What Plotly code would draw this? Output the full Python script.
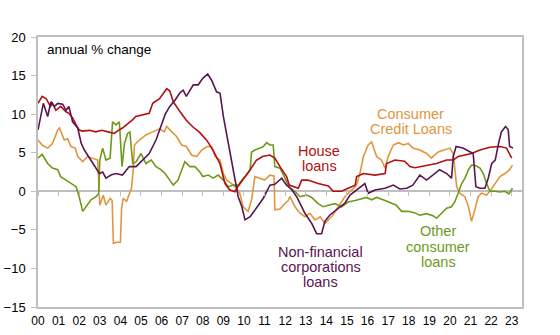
import plotly.graph_objects as go

# ---------------- data (decimal year, annual % change) ----------------
house_t = [2000.0, 2000.2, 2000.4, 2000.6, 2000.7, 2000.87, 2001.1, 2001.36, 2001.5, 2001.68, 2001.85,
           2002.0, 2002.17, 2002.5, 2002.8, 2003.1, 2003.4, 2003.7, 2003.9, 2004.1, 2004.6, 2004.75,
           2005.4, 2005.57, 2005.9, 2006.25, 2006.4, 2006.57, 2006.9, 2007.2, 2007.5, 2007.86, 2008.2,
           2008.5, 2008.83, 2009.08, 2009.3, 2009.56, 2009.7, 2009.96, 2010.3, 2010.6, 2010.9, 2011.26,
           2011.5, 2011.75, 2012.07, 2012.2, 2012.64, 2012.8, 2013.1, 2013.6, 2014.1, 2014.33, 2014.74,
           2015.06, 2015.4, 2015.47, 2015.8, 2016.36, 2016.85, 2016.93, 2017.33, 2017.8, 2018.06, 2018.3,
           2018.87, 2019.35, 2019.84, 2020.16, 2020.4, 2020.8, 2021.05, 2021.46, 2021.94, 2022.43,
           2022.75, 2023.0]
house_v = [11.4, 12.3, 12.0, 11.0, 11.4, 10.5, 11.0, 10.3, 10.1, 9.5, 8.6,
           7.95, 7.8, 7.9, 7.7, 7.9, 7.7, 7.5, 7.9, 8.2, 9.3, 9.7,
           10.1, 11.4, 12.0, 13.3, 13.0, 11.6, 10.3, 9.2, 8.4, 7.6, 6.6,
           5.3, 3.6, 1.0, 0.2, -0.05, 0.6, 1.5, 2.8, 4.0, 4.5, 4.7,
           4.3, 3.2, 1.9, 0.8, 0.4, 1.45, 1.45, 1.0, 0.7, 0.0, 0.0,
           0.4, 0.8, 1.9, 2.3, 2.1, 2.3, 3.6, 4.05, 3.9, 3.2, 3.05,
           3.4, 3.6, 4.05, 4.05, 4.5, 4.7, 4.9, 5.35, 5.7, 5.8,
           5.6, 4.3]

corp_t = [2000.0, 2000.15, 2000.26, 2000.47, 2000.63, 2000.8, 2000.96, 2001.2, 2001.36, 2001.5, 2001.68,
          2001.93, 2002.1, 2002.25, 2002.5, 2002.73, 2002.98, 2003.14, 2003.3, 2003.54, 2003.79, 2004.1,
          2004.43, 2004.76, 2005.08, 2005.4, 2005.73, 2005.97, 2006.18, 2006.4, 2006.65, 2006.9, 2007.05,
          2007.2, 2007.54, 2007.78, 2008.0, 2008.24, 2008.43, 2008.67, 2008.84, 2009.0, 2009.24, 2009.48,
          2009.72, 2009.9, 2010.05, 2010.3, 2010.6, 2010.94, 2011.26, 2011.5, 2011.83, 2012.07, 2012.3,
          2012.56, 2012.8, 2012.96, 2013.29, 2013.53, 2013.77, 2013.93, 2014.17, 2014.5, 2014.9, 2015.15,
          2015.47, 2015.7, 2015.87, 2016.03, 2016.36, 2016.85, 2017.25, 2017.57, 2017.9, 2018.2, 2018.54,
          2018.87, 2019.2, 2019.5, 2019.84, 2020.08, 2020.16, 2020.3, 2020.63, 2020.97, 2021.13, 2021.26,
          2021.46, 2021.7, 2021.86, 2022.03, 2022.2, 2022.36, 2022.5, 2022.7, 2022.83, 2022.9, 2023.06]
corp_v = [7.95, 10.1, 11.4, 9.7, 11.6, 11.0, 11.4, 11.3, 10.5, 11.0, 9.0,
          8.2, 6.2, 5.35, 4.3, 3.4, 2.3, 2.5, 1.7, 2.1, 2.3, 2.1,
          3.2, 3.2, 4.05, 4.9, 6.65, 8.3, 10.0, 11.0, 11.8, 12.8, 13.1,
          12.3, 13.8, 13.8, 14.65, 15.2, 14.4, 12.9, 12.7, 9.7, 6.2, 2.8,
          -0.7, -2.0, -3.7, -3.3, -2.2, -0.9, 0.8, 0.9, 1.7, 0.8, 0.3,
          -0.7, -2.0, -2.85, -4.15, -5.5, -5.5, -3.9, -3.07, -2.4, -1.55, -0.5,
          0.17, 0.6, 1.0, -0.26, 0.17, 0.4, 0.8, 0.3, 0.4, 0.8, 2.1,
          1.45, 2.1, 2.8, 2.3, 1.7, 4.5, 5.8, 5.6, 5.1, 4.9, 0.6,
          0.4, 0.4, 1.7, 3.6, 4.05, 6.2, 7.7, 8.4, 8.0, 5.8, 5.6]

cons_t = [2000.0, 2000.2, 2000.47, 2000.7, 2000.96, 2001.04, 2001.28, 2001.44, 2001.6, 2001.8, 2001.93,
          2002.17, 2002.4, 2002.66, 2002.9, 2003.0, 2003.17, 2003.3, 2003.5, 2003.6, 2003.66, 2003.82,
          2004.0, 2004.06, 2004.14, 2004.3, 2004.46, 2004.54, 2004.63, 2004.68, 2004.92, 2005.24, 2005.57,
          2005.9, 2006.13, 2006.25, 2006.5, 2006.73, 2006.97, 2007.2, 2007.46, 2007.7, 2007.95, 2008.2,
          2008.43, 2008.6, 2008.84, 2009.0, 2009.16, 2009.4, 2009.64, 2009.8, 2009.96, 2010.2, 2010.37,
          2010.53, 2010.78, 2011.0, 2011.26, 2011.46, 2011.5, 2011.75, 2012.0, 2012.15, 2012.23, 2012.48,
          2012.72, 2012.96, 2013.2, 2013.45, 2013.7, 2013.93, 2014.26, 2014.58, 2014.9, 2015.23, 2015.47,
          2015.63, 2015.8, 2016.03, 2016.2, 2016.44, 2016.68, 2016.85, 2017.0, 2017.25, 2017.5, 2017.74,
          2017.98, 2018.2, 2018.54, 2018.87, 2019.1, 2019.43, 2019.68, 2020.0, 2020.16, 2020.33, 2020.48,
          2020.73, 2020.9, 2021.05, 2021.21, 2021.37, 2021.54, 2021.78, 2021.94, 2022.2, 2022.43, 2022.67,
          2022.9, 2023.04]
cons_v = [6.65, 6.0, 5.6, 6.2, 7.95, 8.2, 6.65, 6.8, 5.8, 5.6, 4.5,
          3.85, 4.5, 4.3, 4.05, -1.8, -0.5, -1.8, -0.9, -1.2, -6.75, -6.6,
          -6.6, -2.2, -0.9, -1.3, 0.0, 0.4, 3.0, 6.0, 6.65, 7.3, 7.7,
          8.1, 7.7, 8.4, 7.7, 7.1, 6.0, 5.8, 4.7, 4.5, 5.35, 5.8,
          5.8, 4.5, 4.05, 2.3, 1.45, 1.0, 0.4, -0.26, -2.0, -2.6, -1.1,
          1.9, 1.7, 1.45, 2.1, 2.0, -2.4, -2.3, -1.55, -1.2, -0.7, -2.0,
          -2.85, -3.3, -2.85, -3.7, -3.3, -4.15, -3.3, -2.0, -0.7, 0.17, 0.8,
          2.3, 4.5, 6.0, 6.4, 4.5, 4.05, 3.0, 4.5, 6.0, 6.3, 6.0,
          6.2, 5.6, 5.35, 4.9, 4.3, 5.1, 5.35, 5.6, 4.9, 0.6, -0.26,
          -0.7, -2.0, -3.9, -2.4, -0.7, -0.26, -0.5, 0.0, 1.0, 1.9, 2.3,
          2.8, 3.4]

other_t = [2000.0, 2000.2, 2000.47, 2000.7, 2000.96, 2001.1, 2001.36, 2001.6, 2001.85, 2002.0, 2002.17,
           2002.33, 2002.57, 2002.82, 2002.95, 2003.0, 2003.14, 2003.3, 2003.5, 2003.62, 2003.79, 2003.95,
           2004.08, 2004.2, 2004.35, 2004.46, 2004.6, 2004.76, 2005.0, 2005.24, 2005.5, 2005.73, 2005.97,
           2006.17, 2006.4, 2006.57, 2006.8, 2006.97, 2007.13, 2007.38, 2007.62, 2007.86, 2008.0, 2008.27,
           2008.5, 2008.75, 2009.0, 2009.24, 2009.48, 2009.72, 2009.9, 2010.13, 2010.3, 2010.37, 2010.53,
           2010.78, 2010.94, 2011.1, 2011.26, 2011.42, 2011.5, 2011.75, 2012.0, 2012.23, 2012.48, 2012.72,
           2013.04, 2013.29, 2013.6, 2013.85, 2014.1, 2014.42, 2014.74, 2015.06, 2015.4, 2015.7, 2015.95,
           2016.2, 2016.44, 2016.76, 2017.1, 2017.4, 2017.65, 2017.98, 2018.3, 2018.54, 2018.87, 2019.2,
           2019.35, 2019.6, 2019.84, 2020.08, 2020.24, 2020.4, 2020.57, 2020.73, 2020.9, 2021.05, 2021.26,
           2021.46, 2021.62, 2021.78, 2021.94, 2022.2, 2022.43, 2022.67, 2022.86, 2023.04]
other_v = [4.3, 4.8, 3.6, 3.0, 2.8, 1.9, 1.45, 1.0, 0.6, -0.7, -2.6,
           -2.0, -1.1, -0.7, -0.3, 4.05, 5.6, 4.05, 4.3, 9.0, 8.6, 9.0,
           3.2, 6.2, 7.5, 7.7, 3.6, 3.8, 4.9, 3.6, 4.05, 3.2, 2.8,
           2.3, 1.45, 0.8, 1.45, 2.8, 3.85, 3.2, 3.2, 2.5, 1.9, 2.1,
           1.7, 2.1, 1.45, 0.6, 0.8, 0.8, 1.45, 2.1, 2.8, 5.1, 5.35,
           5.6, 5.8, 6.3, 6.0, 6.0, 3.2, 3.0, 1.7, 0.4, 0.0, -0.7,
           -0.5, -0.8, -1.6, -2.0, -1.8, -1.6, -2.0, -1.4, -1.2, -1.0, -0.8,
           -1.1, -0.8, -1.1, -1.5, -1.8, -2.6, -2.6, -2.8, -3.1, -2.9, -3.2,
           -3.5, -2.85, -2.2, -2.0, -1.35, -0.26, 1.0, 1.7, 2.8, 3.4, 3.3,
           3.0, 2.3, 1.0, 0.0, 0.0, -0.1, 0.0, -0.35, 0.4]

year_ticks = list(range(2000, 2024))
year_labels = [f"{y % 100:02d}" for y in year_ticks]

RED = "#B40F0F"
PURPLE = "#5A1450"
ORANGE = "#E0963F"
GREEN = "#6E9A1A"
AXIS = "#BFBFBF"
FONT = "Liberation Sans, Arial, sans-serif"

fig = go.Figure()
series = [(cons_t, cons_v, ORANGE, "x"), (other_t, other_v, GREEN, "x"),
          (house_t, house_v, RED, "x"), (corp_t, corp_v, PURPLE, "x2")]
for t, v, c, xa in series:
    fig.add_trace(go.Scatter(x=t, y=v, mode="lines", line=dict(color=c, width=1.6),
                             xaxis=xa, yaxis="y",
                             showlegend=False, hoverinfo="skip"))

fig.update_layout(
    width=560, height=335,
    margin=dict(l=38, r=38, t=37, b=28, autoexpand=False),
    paper_bgcolor="white", plot_bgcolor="white",
    font=dict(family=FONT, color="black"),
    xaxis=dict(range=[2000, 2023.5], tickvals=year_ticks, ticktext=year_labels,
               ticks="outside", ticklen=2, tickcolor="rgba(0,0,0,0)",
               showline=True, linecolor=AXIS, linewidth=1.5, mirror=True,
               showgrid=False, zeroline=False, tickfont=dict(size=12), automargin=False),
    xaxis2=dict(range=[2000, 2023.5], tickvals=year_ticks, overlaying="x",
                anchor="free", position=15 / 35, side="bottom",
                ticks="outside", ticklen=4, tickcolor=AXIS, tickwidth=1,
                showticklabels=False, showline=False, showgrid=False, zeroline=False,
                automargin=False),
    yaxis=dict(range=[-15, 20], dtick=5, ticks="outside", ticklen=5, tickcolor=AXIS,
               showline=True, linecolor=AXIS, linewidth=1.5, mirror=True,
               showgrid=False, zeroline=True, zerolinecolor=AXIS, zerolinewidth=1.5,
               tickfont=dict(size=13), ticklabelstandoff=3, automargin=False),
)

# plot area in pixels: left 38, right 522, top 37, bottom 307
def px_to_paper(px, py):
    return (px - 38) / 484, (307 - py) / 270

fig.add_annotation(text="annual % change", xref="paper", yref="paper", x=0.015, y=0.955,
                   xanchor="left", yanchor="middle", showarrow=False,
                   font=dict(size=13.5, color="black", family=FONT))

labels = [
    (["House", "loans"], 319.3, [150.7, 165.7], RED),
    (["Consumer", "Credit Loans"], 410.7, [113.7, 129.0], ORANGE),
    (["Non-financial", "corporations", "loans"], 320.7, [251.7, 266.5, 281.7], PURPLE),
    (["Other", "consumer", "loans"], 438.3, [231.0, 246.7, 262.0], GREEN),
]
for lines, cx, ys, col in labels:
    for txt, cy in zip(lines, ys):
        ax, ay = px_to_paper(cx, cy)
        fig.add_annotation(text=txt, xref="paper", yref="paper", x=ax, y=ay,
                           xanchor="center", yanchor="middle", showarrow=False,
                           font=dict(size=14.5, color=col, family=FONT))

fig.write_html("out.html")
